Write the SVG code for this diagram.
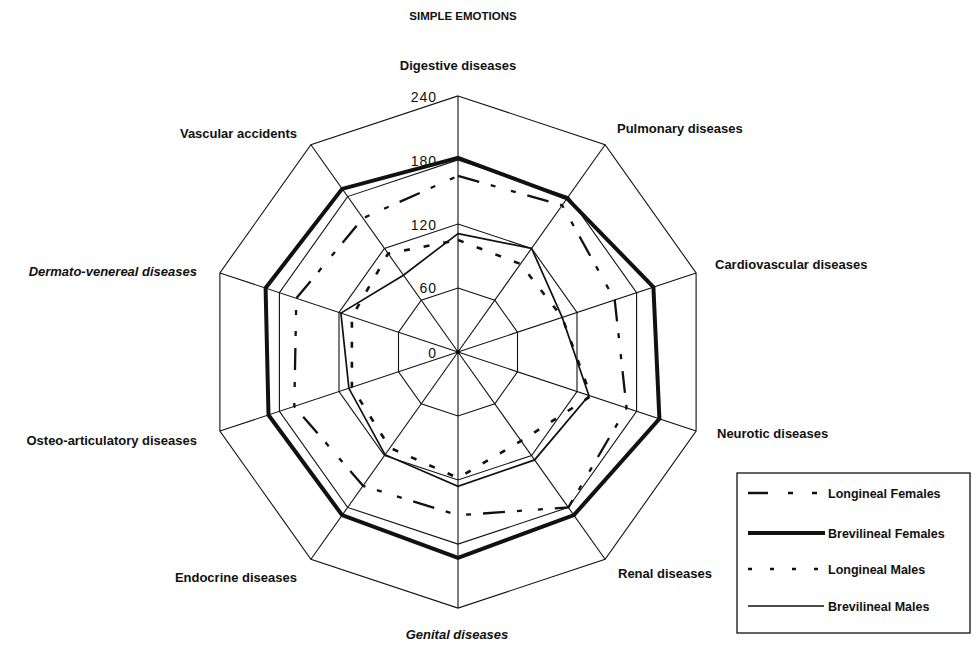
<svg xmlns="http://www.w3.org/2000/svg" width="979" height="649" viewBox="0 0 979 649">
  <style>
    .bg { fill: #ffffff; }
    .grid { fill: none; stroke: #111; stroke-width: 1.1; stroke-linejoin: miter; }
    .spoke { stroke: #111; stroke-width: 1.1; }
    .lf { fill: none; stroke: #111; stroke-width: 2.3; stroke-dasharray: 22 12 5 16 5 12; stroke-linejoin: round; }
    .bf { fill: none; stroke: #111; stroke-width: 4; stroke-linejoin: miter; }
    .lm { fill: none; stroke: #111; stroke-width: 2.6; stroke-dasharray: 6 14; stroke-linejoin: round; }
    .bm { fill: none; stroke: #111; stroke-width: 1.7; stroke-linejoin: miter; }
    .label { font-family: "Liberation Sans", Arial, sans-serif; font-weight: bold; font-size: 13px; fill: #111; }
    .it { font-style: italic; }
    .title { font-family: "Liberation Sans", Arial, sans-serif; font-weight: bold; font-size: 11.5px; fill: #111; }
    .tick { font-family: "Liberation Sans", Arial, sans-serif; font-size: 14px; fill: #111; letter-spacing: 1px; }
    .leg { font-family: "Liberation Sans", Arial, sans-serif; font-weight: bold; font-size: 12.5px; fill: #111; }
    .box { fill: none; stroke: #111; stroke-width: 1.3; }
  </style>

  <rect class="bg" x="0" y="0" width="979" height="649"/>

  <text class="title" x="463" y="20" text-anchor="middle">SIMPLE EMOTIONS</text>

  <!-- radar grid: rings at 60, 120, 180, 240 and ten spokes -->
  <g id="grid">
    <polygon class="grid" points="458,288.0 494.8,300.2 517.5,332.2 517.5,371.8 494.8,403.8 458,416.0 421.2,403.8 398.5,371.8 398.5,332.2 421.2,300.2"/>
    <polygon class="grid" points="458,224.0 531.6,248.4 577.0,312.4 577.0,391.6 531.6,455.6 458,480.0 384.4,455.6 339.0,391.6 339.0,312.4 384.4,248.4"/>
    <polygon class="grid" points="458,159.9 568.4,196.6 636.6,292.7 636.6,411.3 568.4,507.4 458,544.1 347.6,507.4 279.4,411.3 279.4,292.7 347.6,196.6"/>
    <polygon class="grid" points="458,95.9 605.1,144.8 696.1,272.9 696.1,431.1 605.1,559.2 458,608.1 310.9,559.2 219.9,431.1 219.9,272.9 310.9,144.8"/>
    <line class="spoke" x1="458" y1="352" x2="458" y2="95.9"/>
    <line class="spoke" x1="458" y1="352" x2="605.1" y2="144.8"/>
    <line class="spoke" x1="458" y1="352" x2="696.1" y2="272.9"/>
    <line class="spoke" x1="458" y1="352" x2="696.1" y2="431.1"/>
    <line class="spoke" x1="458" y1="352" x2="605.1" y2="559.2"/>
    <line class="spoke" x1="458" y1="352" x2="458" y2="608.1"/>
    <line class="spoke" x1="458" y1="352" x2="310.9" y2="559.2"/>
    <line class="spoke" x1="458" y1="352" x2="219.9" y2="431.1"/>
    <line class="spoke" x1="458" y1="352" x2="219.9" y2="272.9"/>
    <line class="spoke" x1="458" y1="352" x2="310.9" y2="144.8"/>
    <circle cx="458" cy="352" r="2.2" fill="#111"/>
  </g>

  <!-- scale values along the vertical axis -->
  <g id="scale">
    <text class="tick" x="437" y="102" text-anchor="end">240</text>
    <text class="tick" x="437" y="166" text-anchor="end">180</text>
    <text class="tick" x="437" y="230" text-anchor="end">120</text>
    <text class="tick" x="437" y="293" text-anchor="end">60</text>
    <text class="tick" x="437" y="358" text-anchor="end">0</text>
  </g>

  <!-- data series -->
  <g id="series">
    <polygon id="brevilineal-females" class="bf" points="458,157.8 567.1,198.4 653.4,287.0 659.4,418.9 573.9,515.1 458,557.9 342.1,515.1 268.5,415.0 265.6,288.0 342.1,188.9"/>
    <polygon id="longineal-females" class="lf" points="458,175.9 562.2,205.3 614.7,299.9 626.6,408.0 568.4,507.4 458,515.3 363.0,485.8 294.3,406.4 296.3,298.3 363.0,218.2"/>
    <polygon id="brevilineal-males" class="bm" points="458,233.6 531.6,248.4 562.2,317.4 588.9,395.5 534.6,459.9 458,486.4 385.0,454.7 348.9,388.3 340.9,313.1 403.4,275.2"/>
    <polygon id="longineal-males" class="lm" points="458,240.0 520.5,264.0 562.2,317.4 590.9,396.2 521.1,440.9 458,477.9 389.9,447.8 351.9,387.3 351.9,316.7 388.1,253.6"/>
  </g>

  <!-- axis labels -->
  <g id="axis-digestive"><text class="label" x="458" y="70" text-anchor="middle">Digestive diseases</text></g>
  <g id="axis-pulmonary"><text class="label" x="617" y="133">Pulmonary diseases</text></g>
  <g id="axis-cardiovascular"><text class="label" x="715" y="268.5">Cardiovascular diseases</text></g>
  <g id="axis-neurotic"><text class="label" x="717" y="438">Neurotic diseases</text></g>
  <g id="axis-renal"><text class="label" x="618" y="577.5">Renal diseases</text></g>
  <g id="axis-genital"><text class="label it" x="457" y="639" text-anchor="middle">Genital diseases</text></g>
  <g id="axis-endocrine"><text class="label" x="297" y="581.5" text-anchor="end">Endocrine diseases</text></g>
  <g id="axis-osteo"><text class="label" x="197" y="444.5" text-anchor="end">Osteo-articulatory diseases</text></g>
  <g id="axis-dermato"><text class="label it" x="197" y="276" text-anchor="end">Dermato-venereal diseases</text></g>
  <g id="axis-vascular"><text class="label" x="297" y="138" text-anchor="end">Vascular accidents</text></g>

  <!-- legend -->
  <g id="legend">
    <rect class="box" x="737" y="473" width="233" height="160"/>
    <line x1="748" y1="493" x2="825" y2="493" stroke="#111" stroke-width="2.3" stroke-dasharray="20 20 5 19 5 100"/>
    <text class="leg" x="828" y="498">Longineal Females</text>
    <line x1="748" y1="533" x2="825" y2="533" stroke="#111" stroke-width="4"/>
    <text class="leg" x="828" y="538">Brevilineal Females</text>
    <line x1="748" y1="569" x2="825" y2="569" stroke="#111" stroke-width="2.6" stroke-dasharray="4 18"/>
    <text class="leg" x="828" y="574">Longineal Males</text>
    <line x1="748" y1="606" x2="824" y2="606" stroke="#111" stroke-width="1.7"/>
    <text class="leg" x="828" y="611">Brevilineal Males</text>
  </g>
</svg>
